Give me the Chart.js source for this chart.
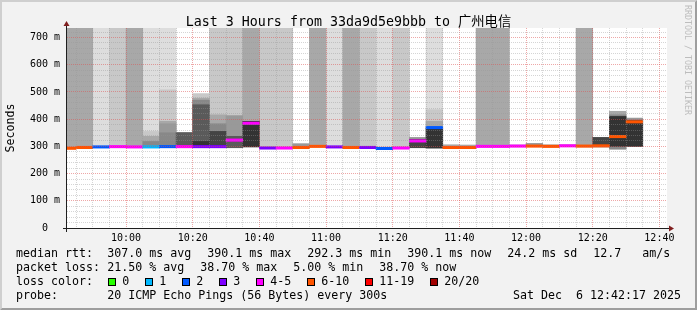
<!DOCTYPE html>
<html>
<head>
<meta charset="utf-8">
<script src="https://cdn.jsdelivr.net/npm/chart.js@4.4.1/dist/chart.umd.min.js"></script>
<style>
html,body{margin:0;padding:0;background:#f2f2f2;overflow:hidden;}
canvas{display:block;}
</style>
</head>
<body>
<canvas id="chart" width="697" height="310"></canvas>
<script>
// ---------------- data ----------------
const titleText = 'Last 3 Hours from 33da9d5e9bbb to 广州电信';
const windowStart = '09:42:17';
const windowEnd = '12:42:17';

// end time of each 5-minute step
const intervalEnd = ['09:45','09:50','09:55','10:00','10:05','10:10','10:15','10:20','10:25','10:30',
  '10:35','10:40','10:45','10:50','10:55','11:00','11:05','11:10','11:15','11:20',
  '11:25','11:30','11:35','11:40','11:45','11:50','11:55','12:00','12:05','12:10',
  '12:15','12:20','12:25','12:30','12:35'];

// median round trip time (ms)
const medianRtt = [293, 296, 298, 299, 298, 298, 299, 299, 299, 299,
  323, 385, 294, 294, 296, 300, 298, 296, 296, 292.3,
  294, 320, 369, 296, 296, 300, 300, 301, 301, 300,
  302, 301, 302, 336, 390.1];

// packet loss (%)
const lossPct = [30, 30, 10, 20, 20, 5, 10, 20, 15, 15,
  20, 20, 15, 20, 30, 30, 15, 30, 15, 10,
  20, 20, 10, 30, 30, 20, 20, 20, 30, 30,
  20, 30, 30, 32, 38.7];

// smoke bands [low, high] in ms, lightest (outer) to darkest (inner); 735 = lost pings, up to the top
const T = 735;
const N = null;
const smoke1 = [N, N, [298,T], N, N, [298,T], [296,T], N, N, N,
  N, N, N, N, N, N, [298,T], N, N, [292,T],
  N, N, [294,T], N, N, N, N, N, N, N,
  N, N, N, N, N];
const smoke2 = [N, N, N, [298,T], N, [298,355], [296,508], N, [296,494], [296,T],
  [295,T], N, [294,T], [294,T], N, N, N, N, [296,T], N,
  [294,T], N, [294,435], N, N, N, N, N, N, N,
  N, N, N, N, N];
const smoke3 = [[293,T], [296,T], N, N, [297,T], [298,337], [296,392], N, [296,477], [296,416],
  N, [298,T], N, N, N, [298,T], N, [296,T], N, N,
  N, N, [294,392], [296,306], [296,305], [298,T], [298,T], N, N, [298,306],
  N, [298,T], N, [290,429], N];
const smoke4 = [N, N, N, N, N, N, [296,383], N, N, N,
  [295,413], N, N, N, [296,310], N, N, N, N, N,
  N, [295,333], N, N, N, N, N, [299,305], [299,311], N,
  [300,306], N, N, N, [300,404]];
const smoke5 = [N, N, N, N, N, [298,318], [296,350], N, [296,470], [296,383],
  N, N, N, N, N, N, N, N, N, N,
  N, N, N, N, N, N, N, N, N, N,
  N, N, N, [290,416], [300,398]];
const smoke6 = [N, N, N, N, N, N, N, [298,351], [296,453], N,
  [295,337], N, N, N, N, N, N, N, N, N,
  N, N, N, N, N, N, N, N, N, N,
  N, N, N, N, N];
const smoke7 = [N, N, N, N, N, N, N, N, N, [296,355],
  N, N, N, N, N, N, N, N, N, N,
  N, [295,326], N, N, N, N, N, N, N, N,
  N, N, [298,333], N, N];
const smoke8 = [N, N, N, N, N, N, N, N, [296,318], N,
  N, [298,392], N, N, N, N, N, N, N, N,
  N, N, [294,366], N, N, N, N, N, N, N,
  N, N, N, [300,410], [300,395]];

// loss colour legend
const lossLabels = ['0', '1', '2', '3', '4-5', '6-10', '11-19', '20/20'];
const lossUpper = [0, 1, 2, 3, 5, 10, 19, 20];
const lossColors = ['#26ff00', '#00b8ff', '#0059ff', '#7e00ff', '#ff00ff', '#ff5500', '#ff0000', '#a10000'];

// axis labels
const timeLabels = ['10:00','10:20','10:40','11:00','11:20','11:40','12:00','12:20','12:40'];
const yLabelValues = [0, 100, 200, 300, 400, 500, 600, 700];

// legend text
const rttStats = ['307.0 ms avg', '390.1 ms max', '292.3 ms min', '390.1 ms now', '24.2 ms sd', '12.7   am/s'];
const lossStats = ['21.50 % avg', '38.70 % max', '5.00 % min', '38.70 % now'];
const probeText = '20 ICMP Echo Pings (56 Bytes) every 300s';
const stampText = 'Sat Dec  6 12:42:17 2025';

// ---------------- helpers ----------------
const MONO = '"DejaVu Sans Mono", "Noto Sans CJK SC", monospace';
function toMin(s) { const p = s.split(':').map(Number); return p[0] * 60 + p[1] + (p[2] || 0) / 60; }
function fmt(m) { const h = Math.floor(m / 60), mm = Math.round(m % 60); return String(h).padStart(2, '0') + ':' + String(mm).padStart(2, '0'); }
const xMin = toMin(windowStart), xMax = toMin(windowEnd);
const centers = intervalEnd.map(t => toMin(t) - 2.5);
const Y_MAX = 735;
const PLOT_H = 200;
const halfLine = 1.2 * Y_MAX / PLOT_H;

const smokeShades = ['#dddddd', '#c8c8c8', '#a8a8a8', '#999999', '#888888', '#5a5a5a', '#444444', '#333333'];
const smokeLayers = [smoke1, smoke2, smoke3, smoke4, smoke5, smoke6, smoke7, smoke8];

function lossColor(p) {
  const lost = Math.round(p * 20 / 100);
  const i = lossUpper.findIndex(u => lost <= u);
  return lossColors[i];
}

const datasets = smokeLayers.map((layer, k) => ({
  label: 'smoke' + (k + 1),
  data: layer.map((v, i) => v ? {x: centers[i], y: v} : null).filter(Boolean),
  backgroundColor: smokeShades[k],
  order: 100 - k,
}));
datasets.push({
  label: 'median',
  data: medianRtt.map((m, i) => ({x: centers[i], y: [m - halfLine, m + halfLine]})),
  backgroundColor: lossPct.map(lossColor),
  order: 0,
});

const MINOR = 'rgba(150,150,150,0.4)';
const MAJOR = 'rgba(222,79,79,0.5)';

const frame = {
  id: 'frame',
  beforeDraw(chart) {
    const {ctx, width: W, height: H, chartArea: a} = chart;
    ctx.save();
    ctx.fillStyle = '#f2f2f2';
    ctx.fillRect(0, 0, W, H);
    ctx.fillStyle = '#cfcfcf';
    ctx.beginPath();
    ctx.moveTo(0, H); ctx.lineTo(2, H - 2); ctx.lineTo(2, 2); ctx.lineTo(W - 2, 2); ctx.lineTo(W, 0); ctx.lineTo(0, 0);
    ctx.closePath(); ctx.fill();
    ctx.fillStyle = '#9e9e9e';
    ctx.beginPath();
    ctx.moveTo(2, H - 2); ctx.lineTo(W - 2, H - 2); ctx.lineTo(W - 2, 2); ctx.lineTo(W, 0); ctx.lineTo(W, H); ctx.lineTo(0, H);
    ctx.closePath(); ctx.fill();
    ctx.fillStyle = '#ffffff';
    ctx.fillRect(a.left, a.top, a.right - a.left, a.bottom - a.top);
    ctx.restore();
  },
  afterDraw(chart) {
    const {ctx, width: W, chartArea: a} = chart;
    ctx.save();
    // axes
    ctx.fillStyle = '#1f1f1f';
    ctx.fillRect(a.left - 4, a.bottom, a.right - a.left + 8, 1);
    ctx.fillRect(a.left - 1, a.top - 4, 1, a.bottom - a.top + 8);
    // arrows
    ctx.fillStyle = '#801f1f';
    ctx.beginPath();
    ctx.moveTo(a.right + 2, a.bottom - 2.5); ctx.lineTo(a.right + 2, a.bottom + 3.5); ctx.lineTo(a.right + 7, a.bottom + 0.5);
    ctx.closePath(); ctx.fill();
    ctx.beginPath();
    ctx.moveTo(a.left - 3.5, a.top - 2); ctx.lineTo(a.left + 2.5, a.top - 2); ctx.lineTo(a.left - 0.5, a.top - 7);
    ctx.closePath(); ctx.fill();

    ctx.fillStyle = '#000';
    ctx.textBaseline = 'alphabetic';
    // title
    ctx.font = '13.3px ' + MONO;
    ctx.textAlign = 'center';
    ctx.fillText(titleText, W / 2, 26);
    // y title
    ctx.font = '11.63px ' + MONO;
    ctx.save();
    ctx.translate(10.5, (a.top + a.bottom) / 2);
    ctx.rotate(-Math.PI / 2);
    ctx.textBaseline = 'middle';
    ctx.fillText('Seconds', 0, 0);
    ctx.restore();
    // watermark
    ctx.save();
    ctx.font = '8.3px ' + MONO;
    ctx.fillStyle = '#bdbdbd';
    ctx.translate(687.5, 5);
    ctx.rotate(Math.PI / 2);
    ctx.textAlign = 'left';
    ctx.textBaseline = 'middle';
    ctx.fillText('RRDTOOL / TOBI OETIKER', 0, 0);
    ctx.restore();

    // legend
    ctx.font = '11.63px ' + MONO;
    ctx.textAlign = 'left';
    const gap = 16, col = 107.3, lx = 16;
    const rows = [257, 271, 285, 299];
    function flow(items, y) {
      let x = col;
      items.forEach(t => { ctx.fillText(t, x, y); x += ctx.measureText(t).width + gap; });
    }
    ctx.fillText('median rtt:', lx, rows[0]);
    flow(rttStats, rows[0]);
    ctx.fillText('packet loss:', lx, rows[1]);
    flow(lossStats, rows[1]);
    ctx.fillText('loss color:', lx, rows[2]);
    let x = col + 1;
    lossLabels.forEach((lab, i) => {
      ctx.fillStyle = '#000';
      ctx.fillRect(Math.round(x), rows[2] - 7, 8, 8);
      ctx.fillStyle = lossColors[i];
      ctx.fillRect(Math.round(x) + 1, rows[2] - 6, 6, 6);
      ctx.fillStyle = '#000';
      ctx.fillText(lab, x + 14, rows[2]);
      x += 14 + ctx.measureText(lab).width + gap;
    });
    ctx.fillText('probe:', lx, rows[3]);
    ctx.fillText(probeText, col, rows[3]);
    ctx.textAlign = 'right';
    ctx.fillText(stampText, 681, rows[3]);
    ctx.restore();
  }
};

new Chart(document.getElementById('chart'), {
  type: 'bar',
  data: {datasets},
  options: {
    responsive: false,
    animation: false,
    events: [],
    devicePixelRatio: 1,
    layout: {padding: {top: 28, right: 30, left: 0, bottom: 0}},
    datasets: {bar: {grouped: false, categoryPercentage: 1, barPercentage: 1, borderWidth: 0}},
    plugins: {legend: {display: false}, title: {display: false}, tooltip: {enabled: false}},
    scales: {
      x: {
        type: 'linear', min: xMin, max: xMax, offset: false, bounds: 'data',
        afterBuildTicks(s) {
          const t = [];
          for (let v = Math.ceil(xMin / 5) * 5; v < xMax; v += 5) t.push({value: v});
          s.ticks = t;
        },
        afterFit(s) { s.height = 82; },
        grid: {offset: false, drawTicks: false, z: 1, lineWidth: 1,
          color: c => (c.tick && timeLabels.includes(fmt(c.tick.value))) ? MAJOR : MINOR},
        border: {display: false, dash: [1, 1]},
        ticks: {autoSkip: false, maxRotation: 0, padding: 4, color: '#000',
          font: {family: MONO, size: 10},
          callback: v => { const s = fmt(v); return timeLabels.includes(s) ? s : ''; }}
      },
      y: {
        type: 'linear', min: 0, max: Y_MAX, bounds: 'data',
        afterBuildTicks(s) {
          const t = [];
          for (let v = 0; v < Y_MAX; v += 20) t.push({value: v});
          s.ticks = t;
        },
        afterFit(s) { s.width = 67; },
        grid: {drawTicks: false, z: 1, lineWidth: 1,
          color: c => !c.tick || c.tick.value === 0 ? 'rgba(0,0,0,0)' : (yLabelValues.includes(c.tick.value) ? MAJOR : MINOR)},
        border: {display: false, dash: [1, 1]},
        ticks: {autoSkip: false, padding: 7, color: '#000',
          font: {family: MONO, size: 10},
          callback: v => yLabelValues.includes(v) ? (v === 0 ? '0  ' : v + ' m') : ''}
      }
    }
  },
  plugins: [frame]
});
</script>
</body>
</html>
